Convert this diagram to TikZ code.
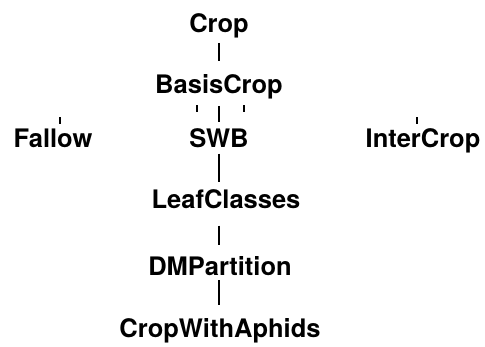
\documentclass[tikz,border=0pt]{standalone}
\usepackage{fontspec}
\setmainfont{TeX Gyre Heros}
\begin{document}
\begin{tikzpicture}[x=1pt,y=-1pt,
  cls/.style={inner sep=0pt, anchor=base, font=\bfseries\fontsize{25.5}{30}\selectfont},
  link/.style={line width=1.3pt, black},
  stub/.style={line width=1.3pt, black}]
\useasboundingbox (0,0) rectangle (485,346);

% class names, placed by their baselines
\node[cls] (crop)  at (219,32)  {Crop};
\node[cls] (basis) at (219,93)  {BasisCrop};
\node[cls] (fallow) at (53,147) {Fallow};
\node[cls] (swb)   at (219,147) {SWB};
\node[cls] (inter) at (423,147) {InterCrop};
\node[cls] (leaf)  at (226,208) {LeafClasses};
\node[cls] (dm)    at (220,275) {DMPartition};
\node[cls] (cwa)   at (220,337) {CropWithAphids};

% inheritance links
\draw[link, shorten <=5pt, shorten >=13pt] (crop.south) -- (basis.north);
\draw[link, shorten <=7pt, shorten >=5.5pt] (basis.south) -- (swb.north);
\draw[link, shorten <=6pt, shorten >=6.5pt] (swb.south) -- (swb.south |- leaf.north);
\draw[link, shorten <=17pt, shorten >=10.5pt] (swb.south |- leaf.south) -- (swb.south |- dm.north);
\draw[link, shorten <=5pt, shorten >=12.5pt] (swb.south |- dm.south) -- (swb.south |- cwa.north);

% short stubs of the remaining links
\coordinate (bl) at (197,105);
\coordinate (br) at (244,105);
\coordinate (fl) at (60,117);
\coordinate (ir) at (417,117);
\draw[stub] (bl) -- ++(0,7);
\draw[stub] (br) -- ++(0,7);
\draw[stub] (fl) -- ++(0,7);
\draw[stub] (ir) -- ++(0,7);
\end{tikzpicture}
\end{document}
